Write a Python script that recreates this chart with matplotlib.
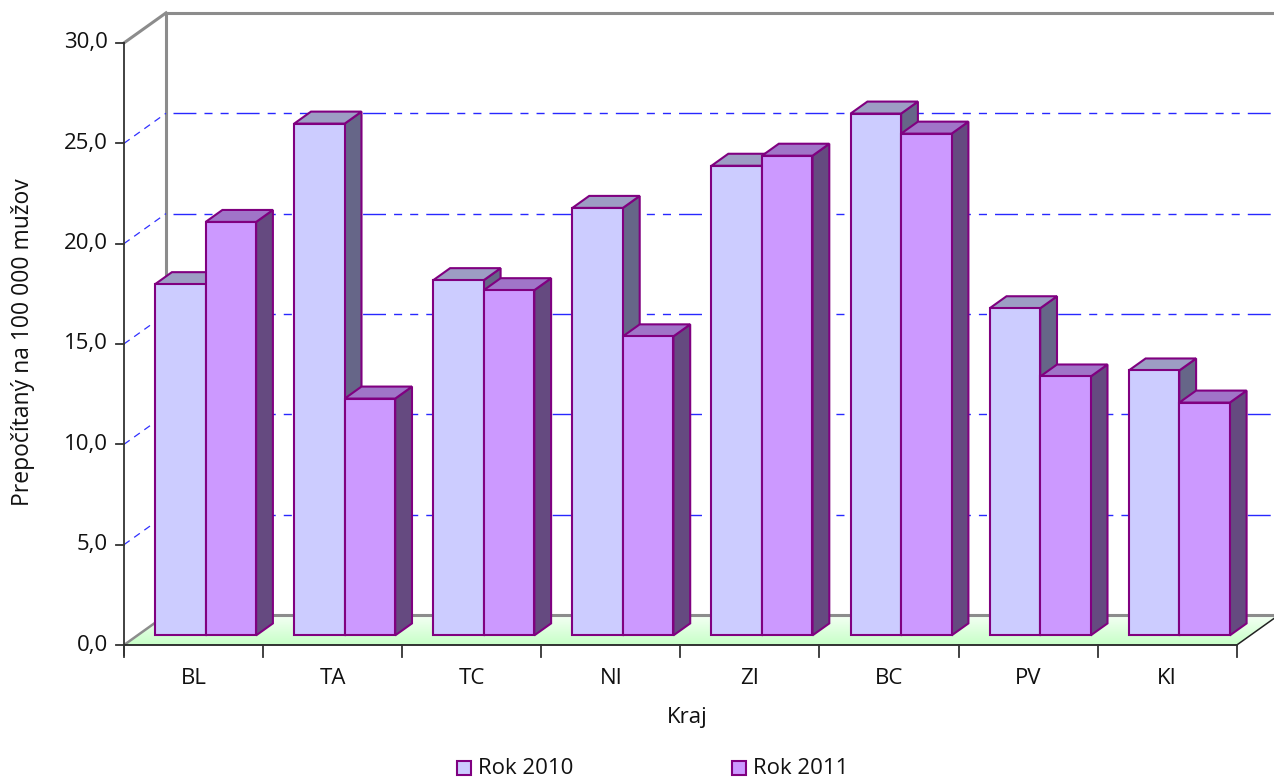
import matplotlib
matplotlib.use('Agg')
import matplotlib.pyplot as plt
from matplotlib.patches import Polygon, Rectangle
import numpy as np

plt.rcParams['font.family'] = ['Open Sans', 'DejaVu Sans']
plt.rcParams['lines.scale_dashes'] = False

# ---------------- data ----------------
categories = ['BL', 'TA', 'TC', 'NI', 'ZI', 'BC', 'PV', 'KI']
rok_2010 = [17.5, 25.5, 17.7, 21.3, 23.4, 26.0, 16.3, 13.2]
rok_2011 = [20.6, 11.8, 17.2, 14.9, 23.9, 25.0, 12.9, 11.6]
series_labels = ['Rok 2010', 'Rok 2011']
y_ticks = [0, 5, 10, 15, 20, 25, 30]
y_tick_labels = ['0,0', '5,0', '10,0', '15,0', '20,0', '25,0', '30,0']
x_title = 'Kraj'
y_title = 'Prepočítaný na 100 000 mužov'

# ---------------- styles ----------------
front_cols = ['#CCCCFF', '#CC99FF']
top_cols = ['#9D9DC4', '#A075C8']
side_cols = ['#666688', '#654A80']
edge_col = '#800080'

W, H = 1274, 780
PX = 139.1      # pixels per category
PY = 20.07      # pixels per value unit
X0 = 124        # pixel of x=-0.5
Y0 = 645        # pixel of y=0 (from top)
FS = 16

fig = plt.figure(figsize=(W / 100, H / 100), dpi=100)
ax = fig.add_axes([0, 0, 1, 1])
ax.set_xlim(-0.5 - X0 / PX, -0.5 + (W - X0) / PX)
ax.set_ylim(-(H - Y0) / PY, Y0 / PY)
ax.axis('off')

n = len(categories)
xmin, xmax = -0.5, n - 0.5
ymax = 30
DX, DY = 42 / PX, 30 / PY          # full depth of chart
fsx, fsy = 0.32 * DX, 0.32 * DY    # front plane of bars
bdx, bdy = 0.40 * DX, 0.40 * DY    # bar depth
w = 50.5 / PX

# floor with gradient
floor = Polygon([(xmin, 0), (xmax, 0), (xmax + DX, DY), (xmin + DX, DY)],
                closed=True, facecolor='none', edgecolor='none')
ax.add_patch(floor)
grad = np.linspace(0, 1, 50).reshape(-1, 1)
c_front = np.array([0.78, 1.0, 0.78])
c_back = np.array([0.96, 1.0, 0.96])
img = c_front[None, None, :] * (1 - grad[..., None]) + c_back[None, None, :] * grad[..., None]
im = ax.imshow(img, extent=(xmin, xmax + DX, 0, DY), origin='lower',
               aspect='auto', zorder=1)
im.set_clip_path(floor)

# walls / frame
gray = '#8C8C8C'
ax.plot([xmin + DX, xmin + DX], [DY, ymax + DY], color=gray, lw=2.2, zorder=2)
ax.plot([xmin + DX, xmax + DX + 1], [ymax + DY, ymax + DY], color=gray, lw=2.2, zorder=2)
ax.plot([xmin, xmin + DX], [ymax, ymax + DY], color=gray, lw=2.2, zorder=2)
ax.plot([xmin + DX, xmax + DX + 1], [DY, DY], color=gray, lw=2.2, zorder=2)
ax.plot([xmin, xmin + DX], [0, DY], color=gray, lw=1.8, zorder=2)

# gridlines
dash = (0, (16.5, 5.8, 5.8, 5.8, 5.8, 5.8))
for v in y_ticks[1:-1]:
    ax.plot([xmin + DX + 0.05, xmax + DX + 1], [v + DY, v + DY], color='#2828FF',
            lw=1.0, linestyle=dash, zorder=2)
    ax.plot([xmin, xmin + DX], [v, v], color='none')
    ax.plot([xmin, xmin + DX], [v, v + DY], color='#3030FF', lw=0.9,
            linestyle=(0, (5, 4)), zorder=2)

# floor edges
ax.plot([xmin, xmax], [0, 0], color='#222222', lw=1.3, zorder=3)
ax.plot([xmax, xmax + DX], [0, DY], color='#222222', lw=1.1, zorder=3)

# axis line & ticks
ax.plot([xmin, xmin], [-0.5, ymax], color='#333333', lw=1.3, zorder=3)
for v, lab in zip(y_ticks, y_tick_labels):
    ax.plot([xmin - 8 / PX, xmin], [v, v], color='#333333', lw=1.3, zorder=3)
    ax.text(xmin - 16 / PX, v, lab, ha='right', va='center', fontsize=FS, color='#111111')
for k in range(n + 1):
    ax.plot([xmin + k, xmin + k], [0, -12 / PY], color='#333333', lw=1.3, zorder=3)
for i, c in enumerate(categories):
    ax.text(i, -33 / PY, c, ha='center', va='center', fontsize=FS, color='#111111')

ax.text((xmin + xmax) / 2 + 0.05, -73 / PY, x_title, ha='center', va='center',
        fontsize=FS, color='#111111')
ax.text(xmin - 101 / PX, 15 + 1.5 / PY, y_title, ha='center', va='center',
        rotation=90, fontsize=FS + 0.5, color='#111111')

# bars
z = 10
for i in range(n):
    for s, vals in enumerate([rok_2010, rok_2011]):
        v = vals[i]
        left = i - w + s * w + fsx - 0.01
        bot = fsy
        side = Polygon([(left + w, bot), (left + w + bdx, bot + bdy),
                        (left + w + bdx, bot + v + bdy), (left + w, bot + v)],
                       closed=True, facecolor=side_cols[s], edgecolor=edge_col,
                       lw=1.5, joinstyle='miter', zorder=z)
        top = Polygon([(left, bot + v), (left + w, bot + v),
                       (left + w + bdx, bot + v + bdy), (left + bdx, bot + v + bdy)],
                      closed=True, facecolor=top_cols[s], edgecolor=edge_col,
                      lw=1.5, joinstyle='miter', zorder=z)
        ax.add_patch(side)
        ax.add_patch(top)
        ax.bar(left, v, width=w, bottom=bot, align='edge', color=front_cols[s],
               edgecolor=edge_col, linewidth=1.5, zorder=z + 0.5)
        z += 1

# legend
leg_x = [457, 732]
for s, lab in enumerate(series_labels):
    fig.patches.append(Rectangle((leg_x[s] / W, 1 - 775 / H), 14 / W, 14 / H,
                                 transform=fig.transFigure, facecolor=front_cols[s],
                                 edgecolor=edge_col, lw=1.5))
    fig.text((leg_x[s] + 21) / W, 1 - 768 / H, lab, ha='left', va='center',
             fontsize=FS, color='#111111')

fig.savefig('out.png', dpi=100)
